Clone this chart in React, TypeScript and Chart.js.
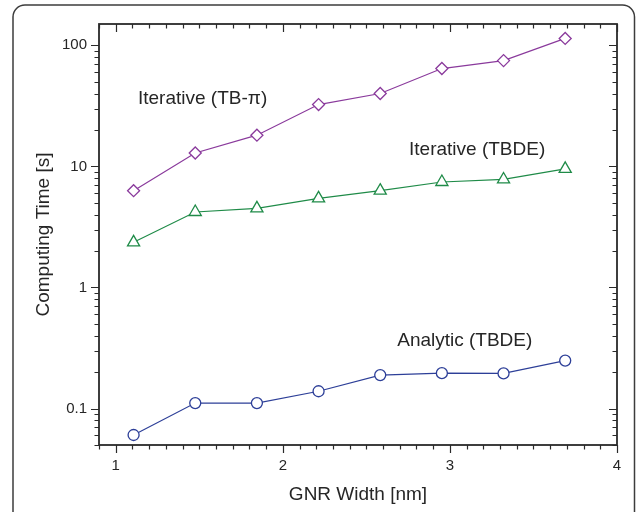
import React, { useEffect, useRef } from "react";
import { Chart, registerables } from "chart.js";

Chart.register(...registerables);

// GNR widths [nm]
const WIDTHS = [1.107, 1.476, 1.845, 2.214, 2.583, 2.952, 3.321, 3.69];
// Computing times [s]
const ITER_TBPI = [6.3, 12.9, 18.1, 32.4, 40, 64.3, 74.8, 114];
const ITER_TBDE = [2.36, 4.2, 4.5, 5.45, 6.3, 7.43, 7.8, 9.55];
const ANALYTIC_TBDE = [0.0605, 0.111, 0.111, 0.139, 0.189, 0.196, 0.195, 0.249];

const X_TICKS = [1, 2, 3, 4];
const Y_TICKS = [0.1, 1, 10, 100];

const LABEL_TEXTS = ["Iterative (TB-\u03c0)", "Iterative (TBDE)", "Analytic (TBDE)"];
const LABEL_X = [1.52, 3.163, 3.089];
const LABEL_Y = [36, 13.6, 0.363];

const FONT = '"Liberation Sans", Arial, Helvetica, sans-serif';
const TEXT_COLOR = "#262626";
const AXIS_COLOR = "#2a2a2a";

const framePlugin = {
  id: "frameTicks",
  beforeDraw(chart: any) {
    const ctx = chart.ctx as CanvasRenderingContext2D;
    ctx.save();
    ctx.fillStyle = "#ffffff";
    ctx.fillRect(0, 0, chart.width, chart.height);
    ctx.strokeStyle = "#3c3c3c";
    ctx.lineWidth = 1.5;
    const x0 = 13, y0 = 5, x1 = 634.5, y1 = 560, r = 12;
    ctx.beginPath();
    ctx.moveTo(x0 + r, y0);
    ctx.lineTo(x1 - r, y0);
    ctx.arcTo(x1, y0, x1, y0 + r, r);
    ctx.lineTo(x1, y1);
    ctx.moveTo(x0, y1);
    ctx.lineTo(x0, y0 + r);
    ctx.arcTo(x0, y0, x0 + r, y0, r);
    ctx.stroke();
    ctx.restore();
  },
  afterDatasetsDraw(chart: any) {
    const ctx = chart.ctx as CanvasRenderingContext2D;
    const a = chart.chartArea;
    const xs = chart.scales.x;
    const ys = chart.scales.y;
    ctx.save();
    ctx.strokeStyle = AXIS_COLOR;
    ctx.lineWidth = 1.8;
    ctx.strokeRect(a.left, a.top, a.right - a.left, a.bottom - a.top);
    ctx.lineWidth = 1.2;
    ctx.beginPath();
    // x ticks: majors every 1, minors every 0.1
    for (let i = Math.round(xs.min * 10); i <= Math.round(xs.max * 10); i++) {
      const v = i / 10;
      const major = i % 10 === 0;
      const px = Math.round(xs.getPixelForValue(v)) + 0.5;
      const len = major ? 8 : 4.5;
      ctx.moveTo(px, a.bottom);
      ctx.lineTo(px, a.bottom + len);
      ctx.moveTo(px, a.top);
      ctx.lineTo(px, a.top + len);
    }
    // y ticks: log decades with minors 2..9
    for (let n = -2; n <= 2; n++) {
      for (let k = 1; k <= 9; k++) {
        const v = k * Math.pow(10, n);
        if (v < ys.min * 0.999 || v > ys.max * 1.001) continue;
        const major = k === 1;
        const py = Math.round(ys.getPixelForValue(v)) + 0.5;
        const len = major ? 8 : 4.5;
        ctx.moveTo(a.left - len, py);
        ctx.lineTo(a.left, py);
        ctx.moveTo(a.right - len, py);
        ctx.lineTo(a.right, py);
      }
    }
    ctx.stroke();
    // in-plot labels
    ctx.font = `19px ${FONT}`;
    ctx.fillStyle = TEXT_COLOR;
    ctx.textAlign = "center";
    ctx.textBaseline = "middle";
    LABEL_TEXTS.forEach((t, i) => {
      ctx.fillText(t, xs.getPixelForValue(LABEL_X[i]), ys.getPixelForValue(LABEL_Y[i]));
    });
    ctx.restore();
  },
};

const toPoints = (vals: number[]) => vals.map((v, i) => ({ x: WIDTHS[i], y: v }));

export default function App() {
  const ref = useRef<HTMLCanvasElement>(null);
  useEffect(() => {
    if (!ref.current) return;
    const series = [
      { label: LABEL_TEXTS[0], data: toPoints(ITER_TBPI), color: "#8a3a9c", style: "rectRot", radius: 6 },
      { label: LABEL_TEXTS[1], data: toPoints(ITER_TBDE), color: "#1f8b48", style: "triangle", radius: 7 },
      { label: LABEL_TEXTS[2], data: toPoints(ANALYTIC_TBDE), color: "#2d3f98", style: "circle", radius: 5.5 },
    ];
    const chart = new Chart(ref.current, {
      type: "line",
      data: {
        datasets: series.map((s) => ({
          label: s.label,
          data: s.data,
          borderColor: s.color,
          borderWidth: 1.2,
          pointStyle: s.style as any,
          pointRadius: s.radius,
          pointBorderWidth: 1.3,
          pointBorderColor: s.color,
          pointBackgroundColor: "#ffffff",
          fill: false,
          tension: 0,
          clip: false as any,
        })),
      },
      options: {
        animation: false,
        responsive: false,
        devicePixelRatio: 1,
        layout: { padding: { left: 32, top: 24, right: 20, bottom: 6 } },
        plugins: { legend: { display: false }, tooltip: { enabled: false } },
        scales: {
          x: {
            type: "linear",
            min: 0.9,
            max: 4,
            grid: { display: false, drawTicks: false },
            border: { display: false },
            afterBuildTicks: (s: any) => {
              s.ticks = X_TICKS.map((v) => ({ value: v }));
            },
            afterFit: (s: any) => {
              s.height = 61;
            },
            ticks: {
              padding: 12,
              color: TEXT_COLOR,
              font: { family: FONT, size: 15 },
              maxRotation: 0,
              callback: (v: any) => String(v),
            },
            title: {
              display: true,
              text: "GNR Width [nm]",
              color: TEXT_COLOR,
              font: { family: FONT, size: 19 },
              padding: { top: 0, bottom: 0 },
            },
          },
          y: {
            type: "logarithmic",
            min: 0.05,
            max: 150,
            grid: { display: false, drawTicks: false },
            border: { display: false },
            afterBuildTicks: (s: any) => {
              s.ticks = Y_TICKS.map((v) => ({ value: v }));
            },
            afterFit: (s: any) => {
              s.width = 67;
            },
            ticks: {
              padding: 12,
              color: TEXT_COLOR,
              font: { family: FONT, size: 15 },
              callback: (v: any) => String(v),
            },
            title: {
              display: true,
              text: "Computing Time [s]",
              color: TEXT_COLOR,
              font: { family: FONT, size: 19 },
              padding: { top: 0, bottom: 0 },
            },
          },
        },
      },
      plugins: [framePlugin],
    } as any);
    return () => chart.destroy();
  }, []);
  return (
    <div style={{ position: "fixed", left: 0, top: 0, width: 637, height: 512, background: "#fff" }}>
      <canvas ref={ref} width={637} height={512} style={{ display: "block", width: 637, height: 512 }} />
    </div>
  );
}
